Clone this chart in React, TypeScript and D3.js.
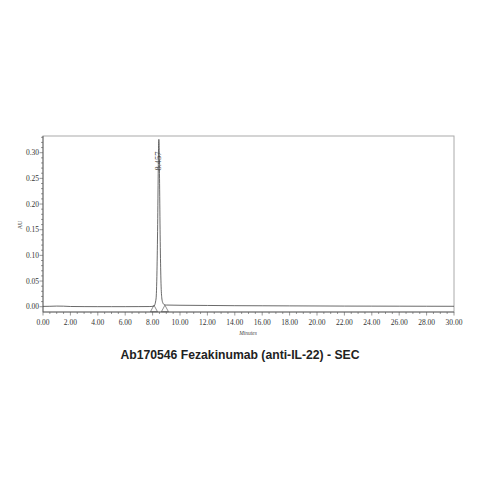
import React from "react";
import * as d3 from "d3";

const title = "Ab170546 Fezakinumab (anti-IL-22) - SEC";
const xTicks = [0, 2, 4, 6, 8, 10, 12, 14, 16, 18, 20, 22, 24, 26, 28, 30];
const yTicks = [0, 0.05, 0.1, 0.15, 0.2, 0.25, 0.3];
const peakTime = 8.457;
const peakLabel = "8.457";
const markerTimes = [8.1, 8.9];

// chromatogram trace points [minutes, AU]
const traceTimes = [0, 0.5, 1, 1.5, 2, 3, 4, 5, 6, 7, 7.8, 8.1, 8.25, 8.32, 8.37, 8.41, 8.44, 8.457, 8.48, 8.51, 8.55, 8.6, 8.66, 8.74, 8.85, 9, 10, 12, 14, 16, 18, 20, 22, 24, 26, 28, 30];
const traceAU = [0.0006, 0.0008, 0.0012, 0.0010, 0.0004, 0.0002, 0.0001, 0.0001, 0.0001, 0.0002, 0.0003, 0.0012, 0.015, 0.07, 0.16, 0.26, 0.318, 0.326, 0.31, 0.24, 0.14, 0.06, 0.02, 0.008, 0.004, 0.0032, 0.0028, 0.0024, 0.002, 0.0018, 0.0016, 0.0014, 0.0012, 0.0011, 0.001, 0.0009, 0.0008];

export default function App() {
  const left = 43, right = 454, top = 136, bottom = 312;
  const x = d3.scaleLinear().domain([0, 30]).range([left, right]);
  const y = d3.scaleLinear().domain([0, 0.3]).range([306.7, 152.7]);
  const line = d3
    .line<number>()
    .x((_, i) => x(traceTimes[i]))
    .y((d) => y(d))
    .curve(d3.curveMonotoneX);
  const xMinor = d3.range(0, 30.001, 0.5);
  const yMinor = d3.range(0, 0.3301, 0.01);
  const fmt = d3.format(".2f");
  const axisColor = "#555";
  const font = "'Liberation Serif', 'DejaVu Serif', serif";
  return (
    <div style={{ position: "absolute", left: 0, top: 0 }}>
      <svg width={479} height={479} style={{ display: "block", background: "#fff" }}>
        <rect x={left} y={top} width={right - left} height={bottom - top} fill="none" stroke="#aaa" strokeWidth={1} />
        <line x1={left} x2={left} y1={top} y2={bottom} stroke={axisColor} strokeWidth={0.8} />
        <line x1={left} x2={right} y1={bottom} y2={bottom} stroke={axisColor} strokeWidth={0.8} />
        {yMinor.map((v, i) => (
          <line key={"ym" + i} x1={left} x2={left - (i % 5 === 0 ? 3.5 : 2)} y1={y(v)} y2={y(v)} stroke={axisColor} strokeWidth={0.6} />
        ))}
        {xMinor.map((v, i) => (
          <line key={"xm" + i} x1={x(v)} x2={x(v)} y1={bottom} y2={bottom + (i % 4 === 0 ? 3.5 : 2)} stroke={axisColor} strokeWidth={0.6} />
        ))}
        {yTicks.map((v) => (
          <text key={"yt" + v} x={left - 4} y={y(v)} dy="0.35em" textAnchor="end" fontFamily={font} fontSize={7.5} fill="#333">
            {fmt(v)}
          </text>
        ))}
        {xTicks.map((v) => (
          <text key={"xt" + v} x={x(v)} y={bottom + 12.5} textAnchor="middle" fontFamily={font} fontSize={7.5} fill="#333">
            {fmt(v)}
          </text>
        ))}
        <text x={248} y={335} textAnchor="middle" fontFamily={font} fontSize={5.5} fontStyle="italic" fill="#444">Minutes</text>
        <text transform={`translate(22,225) rotate(-90)`} textAnchor="middle" fontFamily={font} fontSize={6} fill="#444">AU</text>
        <path d={line(traceAU) || ""} fill="none" stroke="#444" strokeWidth={0.8} />
        {markerTimes.map((t) => (
          <path key={"m" + t} d={`M${x(t)},${y(0) - 1.5} l-3.5,6.5 l7,0 z`} fill="none" stroke="#444" strokeWidth={0.6} />
        ))}
        <text transform={`translate(${x(peakTime) + 2.3},161) rotate(-90)`} textAnchor="middle" fontFamily={font} fontSize={8.5} fill="#444">
          {peakLabel}
        </text>
        <text x={240} y={359} textAnchor="middle" fontFamily="'Liberation Sans', Arial, sans-serif" fontWeight="bold" fontSize={12.2} fill="#222">
          {title}
        </text>
      </svg>
    </div>
  );
}
